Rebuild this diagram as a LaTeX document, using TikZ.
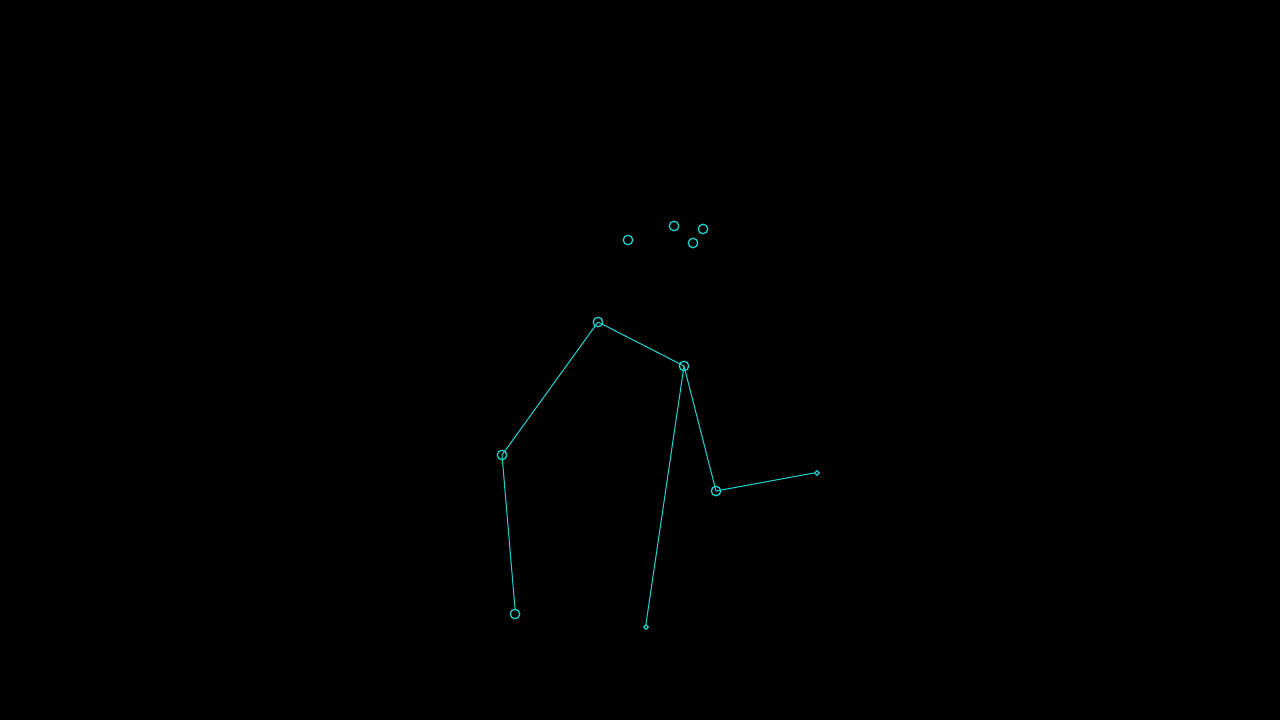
\documentclass[tikz,border=0pt]{standalone}
\usetikzlibrary{shapes,positioning}
\definecolor{bonecyan}{RGB}{35,205,205}

\begin{document}
\begin{tikzpicture}[
        x=0.02cm, y=-0.02cm,
        joint/.style={draw=bonecyan, circle, line width=0.75pt, inner sep=0pt, minimum size=0.19cm},
        tip/.style={draw=bonecyan, diamond, line width=0.75pt, inner sep=0pt, minimum size=0.1cm},
        bone/.style={draw=bonecyan, line width=0.6pt}
    ]
        % Background
        \fill [black] (0,0) rectangle (1280,720);

        % Head points
        \node (headA) [joint] at (628,240) {};
        \node (headB) [joint] at (674,226) {};
        \node (headC) [joint] at (703,229) {};
        \node (headD) [joint] at (693,243) {};

        % Body joints
        \node (neck) [joint] at (598,322) {};
        \node (shoulder) [joint] at (684,366) {};
        \node (elbowL) [joint] at (502,455) {};
        \node (wristL) [joint] at (515,614) {};
        \node (elbowR) [joint] at (716,491) {};
        \node (handR) [tip] at (817,473) {};
        \node (foot) [tip] at (646,627) {};

        % Bones
        \draw [bone] (neck.center) -- (shoulder.center);
        \draw [bone] (neck.center) -- (elbowL.center);
        \draw [bone] (elbowL.center) -- (wristL.north);
        \draw [bone] (shoulder.center) -- (elbowR.center);
        \draw [bone] (elbowR.center) -- (handR.west);
        \draw [bone] (shoulder.center) -- (foot.north);

    \end{tikzpicture}
\end{document}
